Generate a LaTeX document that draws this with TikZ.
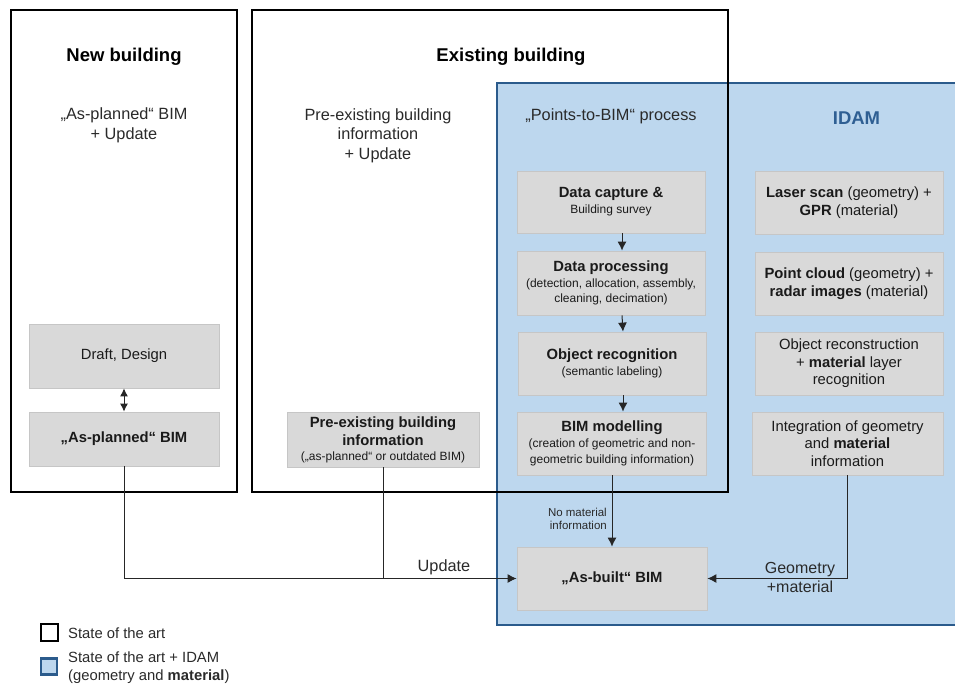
\documentclass[tikz,border=0pt]{standalone}
\usepackage{fontspec}
\setmainfont{Liberation Sans}
\usetikzlibrary{arrows.meta}
\definecolor{idamblue}{HTML}{BDD7EE}
\definecolor{idamborder}{HTML}{2B5B8C}
\definecolor{boxgray}{HTML}{D9D9D9}
\definecolor{boxline}{HTML}{C6C6C6}
\definecolor{txt}{HTML}{1A1A1A}
\definecolor{headtxt}{HTML}{2A2A2A}
\definecolor{idamtitle}{HTML}{2F5F93}
\newcommand\fsTitle{\fontsize{18.5}{22}\selectfont}
\newcommand\fsHead{\fontsize{16.3}{19.5}\selectfont}
\newcommand\fsBox{\fontsize{14.8}{17.5}\selectfont}
\newcommand\fsBoxB{\fontsize{14.8}{18.5}\selectfont}
\newcommand\fsSmall{\fontsize{12}{15.8}\selectfont}
\newcommand\fsTiny{\fontsize{11.5}{12.5}\selectfont}
\begin{document}
\begin{tikzpicture}[x=1pt,y=-1pt,
  graybox/.style={draw=boxline, line width=0.8pt, fill=boxgray, align=center, inner sep=0pt, text=txt},
  conn/.style={draw=black!85, line width=1pt},
  tip/.style={-{Latex[length=9pt,width=9pt]}},
  frame/.style={draw=black, line width=2pt, inner sep=0pt},
  lbl/.style={text=headtxt, align=center, inner sep=0pt}]
\useasboundingbox (0,0) rectangle (955,683);

% IDAM blue region
\node[fill=idamblue, draw=idamborder, line width=2.5pt, inner sep=0pt,
      minimum width=463, minimum height=542] (idam) at (728.5,354) {};

% outer frames
\node[frame, minimum width=226, minimum height=482] (newb) at (124,251) {};
\node[frame, minimum width=476, minimum height=482] (exb) at (490,251) {};

% titles
\node[font=\fsTitle\bfseries, inner sep=0pt] (t1) at (124,57) {New building};
\node[font=\fsTitle\bfseries, inner sep=0pt] (t2) at (511,57) {Existing building};
\node[font=\fsTitle\bfseries, text=idamtitle, inner sep=0pt] (t3) at (856.5,118) {IDAM};

\node[lbl, font=\fsHead] (h1) at (124,125.5) {„As-planned“ BIM\\+ Update};
\node[lbl, font=\fsHead] (h2) at (378,135.5) {Pre-existing building\\information\\+ Update};
\node[lbl, font=\fsHead] (h3) at (611,116) {„Points-to-BIM“ process};

% new building boxes
\node[graybox, minimum width=190, minimum height=64, font=\fsBox] (draft) at (124,356) {Draft, Design};
\node[graybox, minimum width=190, minimum height=54, font=\fsBox\bfseries] (aplan) at (124,439) {„As-planned“ BIM};

% pre-existing box
\node[graybox, minimum width=192, minimum height=55, font=\fsBoxB] (preex) at (383,439.5)
  {\textbf{Pre-existing building}\\\textbf{information}\\[-4pt]{\fsSmall(„as-planned“ or outdated BIM)}};

% points-to-BIM process
\node[graybox, minimum width=188, minimum height=62, font=\fsSmall] (dc) at (611,202)
  {{\fsBox\bfseries Data capture \&}\\Building survey};
\node[graybox, minimum width=188, minimum height=64, font=\fsSmall] (dp) at (611,283)
  {{\fsBox\bfseries Data processing}\\(detection, allocation, assembly,\\cleaning, decimation)};
\node[graybox, minimum width=188, minimum height=63, font=\fsSmall] (orc) at (612,363.5)
  {{\fsBox\bfseries Object recognition}\\(semantic labeling)};
\node[graybox, minimum width=189, minimum height=63, font=\fsSmall] (bim) at (612,443.5)
  {{\fsBox\bfseries BIM modelling}\\(creation of geometric and non-\\geometric building information)};

% IDAM boxes
\node[graybox, minimum width=188, minimum height=63, font=\fsBox] (ls) at (849,202.5)
  {\textbf{Laser scan} (geometry) +\\\textbf{GPR} (material)};
\node[graybox, minimum width=188, minimum height=63, font=\fsBox] (pc) at (849,283.5)
  {\textbf{Point cloud} (geometry) +\\\textbf{radar images} (material)};
\node[graybox, minimum width=188, minimum height=63, font=\fsBox] (orec) at (849,363.5)
  {Object reconstruction\\+ \textbf{material} layer\\recognition};
\node[graybox, minimum width=191, minimum height=63, font=\fsBox] (integ) at (847.5,443.5)
  {Integration of geometry\\and \textbf{material}\\information};

% as-built
\node[graybox, minimum width=190, minimum height=63, font=\fsBox\bfseries] (abim) at (612,578.5) {„As-built“ BIM};

% connectors
\draw[conn, {Latex[length=8pt,width=8pt]}-{Latex[length=8pt,width=8pt]}] (draft.south) -- (aplan.north);
\draw[conn, tip] ([xshift=11pt]dc.south) -- ([xshift=11pt]dp.north);
\draw[conn, tip] ([xshift=11pt]dp.south) -- ([xshift=11pt]orc.north);
\draw[conn, tip] ([xshift=11pt]orc.south) -- ([xshift=11pt]bim.north);
\draw[conn, tip] (bim.south) -- (abim.north);
\draw[conn, tip] (aplan.south) |- (abim.west);
\draw[conn] (preex.south) -- (preex.south |- abim.west);
\draw[conn, tip] (integ.south) |- (abim.east);

% connector labels
\node[text=headtxt, font=\fsHead, inner sep=0pt] (upd) at (444,567) {Update};
\node[text=headtxt, font=\fsTiny, align=right, inner sep=0pt, anchor=east] (nomat) at (607,519) {No material\\information};
\node[text=headtxt, font=\fontsize{16}{19}\selectfont, align=center, inner sep=0pt] (geo) at (800,577.5) {Geometry\\+material};

% legend
\node[draw=black, line width=2pt, fill=white, minimum size=17, inner sep=0pt] (lg1) at (49,632.5) {};
\node[draw=idamborder, line width=2.5pt, fill=idamblue, minimum size=16, inner sep=0pt] (lg2) at (49,666.5) {};
\node[text=headtxt, font=\fsBox, anchor=west, inner sep=0pt] (lt1) at (68,633) {State of the art};
\node[text=headtxt, font=\fsBox, align=left, anchor=west, inner sep=0pt] (lt2) at (68,667.5) {State of the art + IDAM\\(geometry and \textbf{material})};
\end{tikzpicture}
\end{document}
